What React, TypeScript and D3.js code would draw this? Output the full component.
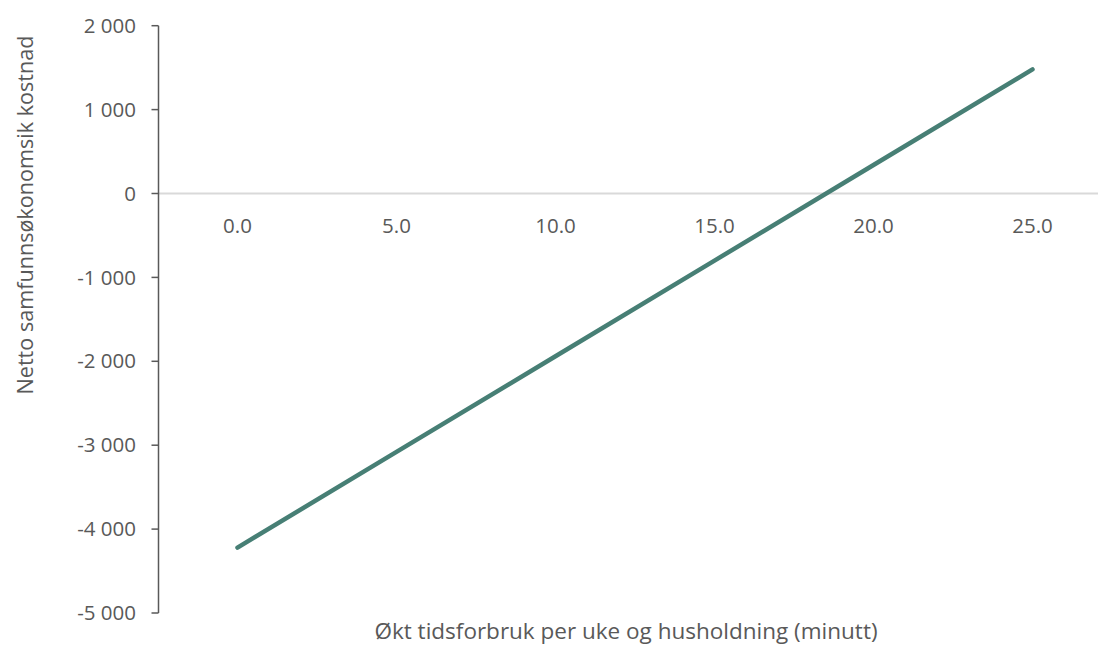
import { useEffect } from 'react';
import * as d3 from 'd3';

// Økt tidsforbruk (minutter) og netto kostnad
const minutes = [0, 5, 10, 15, 20, 25];
const netCost = [-4220, -3080, -1940, -800, 340, 1480];
const yTicks = [2000, 1000, 0, -1000, -2000, -3000, -4000, -5000];

const W = 1098;
const H = 646;
const FONT = '"Open Sans", sans-serif';
const TEXT = '#595959';

const fmtY = (v: number) => {
  const s = d3.format(',')(Math.abs(v)).replace(/,/g, ' ');
  return v < 0 ? `-${s}` : s;
};

export default function App() {
  useEffect(() => {
    document.body.style.margin = '0';
  }, []);

  const x = d3.scaleLinear().domain([0, 25]).range([237.5, 1032.5]);
  const y = d3.scaleLinear().domain([-5000, 2000]).range([613, 25.7]);
  const axisX = 158.5;

  const line = d3
    .line<number>()
    .x((_, i) => x(minutes[i]))
    .y((d) => y(d));

  return (
    <svg width={W} height={H} style={{ display: 'block', background: '#fff' }} fontFamily={FONT}>
      {/* nullinje */}
      <line x1={axisX} x2={W} y1={y(0)} y2={y(0)} stroke="#d9d9d9" strokeWidth={2} />

      {/* y-akse */}
      <line x1={axisX} x2={axisX} y1={y(2000)} y2={y(-5000)} stroke={TEXT} strokeWidth={1.5} />
      {yTicks.map((t) => (
        <g key={t}>
          <line x1={axisX - 7} x2={axisX} y1={y(t)} y2={y(t)} stroke={TEXT} strokeWidth={1.5} />
          <text
            x={136}
            y={y(t)}
            dy="0.35em"
            textAnchor="end"
            fontSize={20.5}
            fill={TEXT}
          >
            {fmtY(t)}
          </text>
        </g>
      ))}

      {/* x-etiketter */}
      {minutes.map((m) => (
        <text key={m} x={x(m)} y={233} textAnchor="middle" fontSize={20.5} fill={TEXT}>
          {d3.format('.1f')(m)}
        </text>
      ))}

      <path
        d={line(netCost) || ''}
        fill="none"
        stroke="#477f75"
        strokeWidth={4.5}
        strokeLinecap="round"
        strokeLinejoin="round"
      />

      <text x={626} y={639} textAnchor="middle" fontSize={22.5} fill={TEXT}>
        Økt tidsforbruk per uke og husholdning (minutt)
      </text>
      <text
        transform={`translate(33,215) rotate(-90)`}
        textAnchor="middle"
        fontSize={21.6}
        fill={TEXT}
      >
        Netto samfunnsøkonomsik kostnad
      </text>
    </svg>
  );
}
